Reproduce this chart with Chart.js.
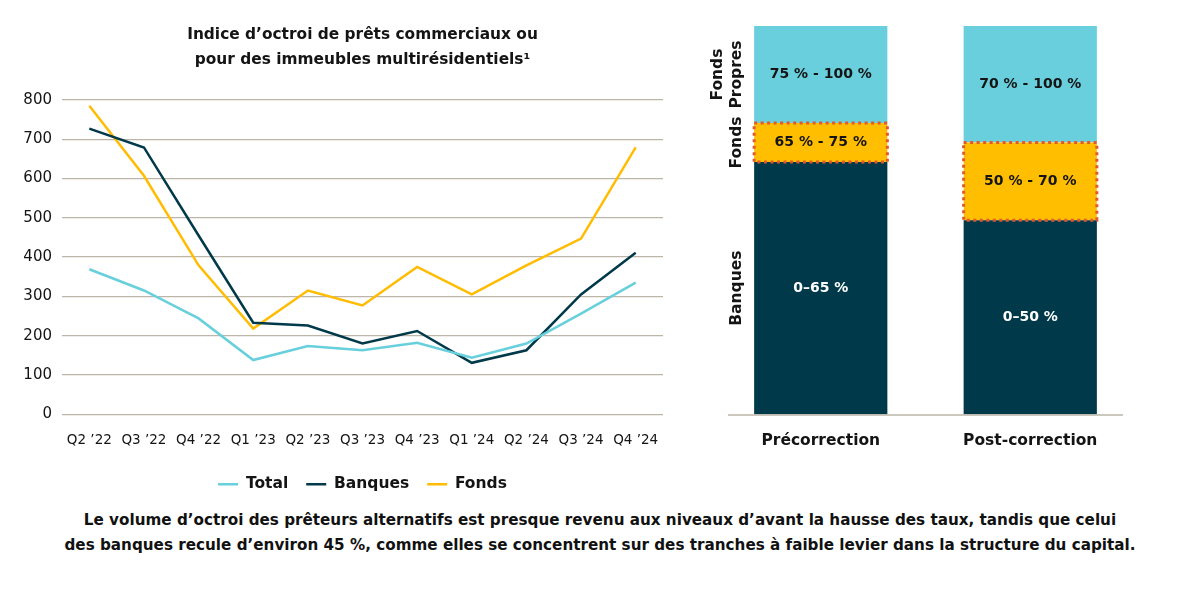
<!DOCTYPE html>
<html lang="fr">
<head>
<meta charset="utf-8">
<script src="https://cdn.jsdelivr.net/npm/chart.js@4.4.1/dist/chart.umd.min.js"></script>
<style>
  html, body { margin: 0; padding: 0; background: #fff; }
  body { width: 1200px; height: 598px; position: relative; overflow: hidden; font-family: "DejaVu Sans", sans-serif; }
  #boxLigne { position: absolute; left: 0; top: 0; width: 690px; height: 506px; }
  #boxBarres { position: absolute; left: 700px; top: 0; width: 440px; height: 475px; }
  .note { position: absolute; left: 0; width: 1200px; text-align: center; font-weight: 700; font-size: 15.2px; line-height: 20px; color: #111; }
</style>
</head>
<body>
<div id="boxLigne"><canvas id="graphLigne"></canvas></div>
<div id="boxBarres"><canvas id="graphBarres"></canvas></div>
<div class="note" style="top:510px">Le volume d’octroi des prêteurs alternatifs est presque revenu aux niveaux d’avant la hausse des taux, tandis que celui</div>
<div class="note" style="top:535px">des banques recule d’environ 45 %, comme elles se concentrent sur des tranches à faible levier dans la structure du capital.</div>

<script>
// graphique de gauche : indice d'octroi
const trimestres = ['Q2 ’22','Q3 ’22','Q4 ’22','Q1 ’23','Q2 ’23','Q3 ’23','Q4 ’23','Q1 ’24','Q2 ’24','Q3 ’24','Q4 ’24'];
const total   = [369, 315, 244, 138, 174, 163, 182, 144, 180, 256, 335];
const banques = [727, 679, 455, 233, 226, 180, 212, 131, 163, 305, 411];
const fonds   = [785, 607, 379, 218, 315, 277, 375, 305, 379, 447, 679];

// graphique de droite : structure du capital
const periodes = ['Précorrection', 'Post-correction'];
const partBanques = [65, 50];
const partFonds = [10, 20];
const partPropres = [25, 30];
const texteBanques = ['0–65 %', '0–50 %'];
const texteFonds = ['65 % - 75 %', '50 % - 70 %'];
const textePropres = ['75 % - 100 %', '70 % - 100 %'];

const police = '"DejaVu Sans", sans-serif';
const noir = '#141414';
const grille = '#bdb6a8';

new Chart(document.getElementById('graphLigne'), {
    type: 'line',
    data: {
        labels: trimestres,
        datasets: [
            { label: 'Total', data: total, borderColor: '#68cfdd', backgroundColor: '#68cfdd', borderWidth: 2.5 },
            { label: 'Banques', data: banques, borderColor: '#003a4a', backgroundColor: '#003a4a', borderWidth: 2.5 },
            { label: 'Fonds', data: fonds, borderColor: '#ffbc00', backgroundColor: '#ffbc00', borderWidth: 2.5 }
        ]
    },
    options: {
        responsive: true,
        maintainAspectRatio: false,
        animation: false,
        elements: { point: { radius: 0 }, line: { tension: 0 } },
        layout: { padding: { left: 8, right: 27, top: 23, bottom: 4 } },
        scales: {
            x: {
                offset: true,
                grid: { display: false },
                border: { display: false },
                ticks: { color: noir, font: { family: police, size: 13.5 }, maxRotation: 0, autoSkip: false, padding: 10 }
            },
            y: {
                min: 0, max: 800,
                grid: { color: grille, lineWidth: 1.3, drawTicks: false },
                border: { display: false },
                ticks: { stepSize: 100, color: noir, font: { family: police, size: 15 }, padding: 10 },
                afterFit(scale) { scale.width = 54; }
            }
        },
        plugins: {
            title: {
                display: true,
                fullSize: false,
                text: ['Indice d’octroi de prêts commerciaux ou', 'pour des immeubles multirésidentiels¹'],
                color: noir,
                font: { family: police, size: 15.4, weight: 'bold', lineHeight: 1.62 },
                padding: { top: 0, bottom: 27 }
            },
            legend: {
                position: 'bottom',
                fullSize: false,
                labels: {
                    usePointStyle: true,
                    pointStyle: 'line',
                    pointStyleWidth: 20,
                    color: noir,
                    font: { family: police, size: 15.5, weight: 'bold' },
                    padding: 18
                }
            },
            tooltip: { enabled: false }
        }
    }
});

// contour pointillé autour de la tranche Fonds, textes dans les barres, libellés verticaux, ligne de base
const decorBarres = {
    id: 'decorBarres',
    afterDatasetsDraw(chart) {
        const ctx = chart.ctx;
        const ca = chart.chartArea;
        ctx.save();
        ctx.strokeStyle = grille;
        ctx.lineWidth = 1.5;
        ctx.beginPath();
        ctx.moveTo(ca.left + 12, ca.bottom + 0.5);
        ctx.lineTo(ca.right - 12, ca.bottom + 0.5);
        ctx.stroke();
        ctx.restore();

        const metaFonds = chart.getDatasetMeta(1);
        ctx.save();
        ctx.strokeStyle = '#e2592c';
        ctx.lineWidth = 3;
        ctx.setLineDash([3, 3.5]);
        metaFonds.data.forEach(b => {
            const p = b.getProps(['x', 'y', 'base', 'width'], true);
            ctx.strokeRect(p.x - p.width / 2, p.y, p.width, p.base - p.y);
        });
        ctx.restore();

        const textes = [texteBanques, texteFonds, textePropres];
        const couleurs = ['#ffffff', noir, noir];
        ctx.save();
        ctx.font = 'bold 14px ' + police;
        ctx.textAlign = 'center';
        ctx.textBaseline = 'middle';
        textes.forEach((liste, i) => {
            chart.getDatasetMeta(i).data.forEach((b, j) => {
                const p = b.getProps(['x', 'y', 'base'], true);
                ctx.fillStyle = couleurs[i];
                ctx.fillText(liste[j], p.x, (p.y + p.base) / 2);
            });
        });

        // libellés verticaux alignés sur la première barre
        ctx.font = 'bold 15.5px ' + police;
        const y = chart.scales.y;
        const lib = [
            { t: ['Banques'], v: partBanques[0] / 2 },
            { t: ['Fonds'], v: partBanques[0] + partFonds[0] / 2 },
            { t: ['Fonds', 'Propres'], v: partBanques[0] + partFonds[0] + partPropres[0] / 2 }
        ];
        ctx.fillStyle = noir;
        lib.forEach(l => {
            const py = y.getPixelForValue(l.v);
            l.t.forEach((ligne, k) => {
                ctx.save();
                ctx.translate(37 - (l.t.length - 1 - k) * 19, py);
                ctx.rotate(-Math.PI / 2);
                ctx.fillText(ligne, 0, 0);
                ctx.restore();
            });
        });
        ctx.restore();
    }
};

new Chart(document.getElementById('graphBarres'), {
    type: 'bar',
    data: {
        labels: periodes,
        datasets: [
            { label: 'Banques', data: partBanques, backgroundColor: '#003a4a' },
            { label: 'Fonds', data: partFonds, backgroundColor: '#ffbe00' },
            { label: 'Fonds Propres', data: partPropres, backgroundColor: '#69cfdc' }
        ]
    },
    options: {
        responsive: true,
        maintainAspectRatio: false,
        animation: false,
        categoryPercentage: 0.636,
        barPercentage: 1,
        layout: { padding: { left: 16, right: 5, top: 26, bottom: 8 } },
        scales: {
            x: {
                stacked: true,
                grid: { display: false, drawTicks: false },
                border: { display: false },
                ticks: { color: noir, font: { family: police, size: 15.5, weight: 'bold' }, padding: 17 }
            },
            y: {
                stacked: true,
                display: false,
                min: 0, max: 100
            }
        },
        plugins: {
            legend: { display: false },
            tooltip: { enabled: false }
        }
    },
    plugins: [decorBarres]
});
</script>
</body>
</html>
